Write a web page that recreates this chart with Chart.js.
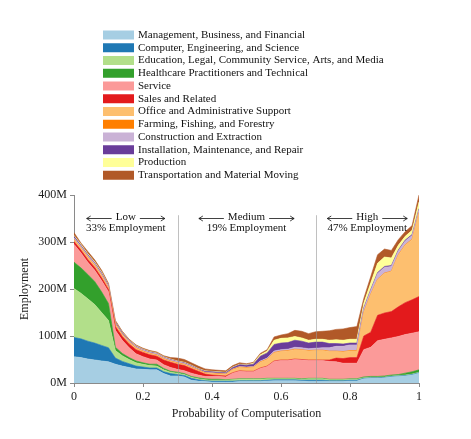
<!DOCTYPE html>
<html>
<head>
<meta charset="utf-8">
<title>Employment by Probability of Computerisation</title>
<script src="https://cdn.jsdelivr.net/npm/chart.js@4.4.1/dist/chart.umd.min.js"></script>
<style>
    html, body { margin: 0; padding: 0; background: #fff; }
    #wrap { position: relative; width: 471px; height: 439px; }
</style>
</head>
<body>
<div id="wrap"><canvas id="chart" width="471" height="439"></canvas></div>
<script>
// --- Data (employment in millions) ---
const probs = [0, 0.02, 0.04, 0.06, 0.08, 0.10, 0.12, 0.14, 0.16, 0.18,
    0.20, 0.22, 0.24, 0.26, 0.28, 0.30, 0.32, 0.34, 0.36, 0.38,
    0.40, 0.42, 0.44, 0.46, 0.48, 0.50, 0.52, 0.54, 0.56, 0.58,
    0.60, 0.62, 0.64, 0.66, 0.68, 0.70, 0.72, 0.74, 0.76, 0.78,
    0.80, 0.82, 0.84, 0.86, 0.88, 0.90, 0.92, 0.94, 0.96, 0.98, 1.00];

const management   = [56, 54, 51, 49, 47, 45, 40, 36, 33, 30, 29, 28, 28, 20, 15, 15, 13, 6, 4, 3, 2, 2, 2, 2, 3, 3, 3, 3, 4, 5, 5, 5, 5, 4, 3, 3, 3, 3, 3, 3, 4, 4, 9, 10, 10, 11, 13, 14, 15, 17, 21];
const computer     = [41, 40, 38, 36, 33, 30, 13, 10, 8, 6, 5, 4, 4, 4, 5, 3, 3, 4, 3, 2, 2, 2, 2, 2, 2, 2, 2, 2, 2, 2, 2, 2, 2, 2, 3, 3, 3, 2, 2, 2, 2, 2, 1, 1, 1, 1, 1, 1, 1, 1, 1];
const education    = [104, 97, 90, 82, 70, 58, 16, 12, 9, 7, 6, 5, 4, 4, 3, 3, 2, 2, 2, 2, 2, 2, 2, 3, 3, 3, 3, 3, 3, 2, 2, 2, 2, 2, 3, 3, 3, 2, 2, 2, 2, 2, 1, 1, 1, 1, 1, 1, 1, 1, 1];
const healthcare   = [56, 54, 52, 49, 44, 36, 7, 5, 4, 4, 3, 3, 4, 3, 2, 2, 2, 2, 2, 2, 2, 2, 1, 1, 1, 1, 1, 1, 1, 1, 1, 1, 1, 1, 1, 1, 1, 1, 1, 1, 1, 1, 2, 2, 2, 2, 2, 2, 4, 5, 5];
const service      = [38, 32, 26, 24, 24, 25, 36, 28, 21, 15, 13, 11, 9, 8, 8, 6, 6, 7, 6, 5, 6, 6, 6, 13, 16, 15, 15, 22, 25, 36, 38, 38, 40, 40, 38, 38, 38, 38, 37, 34, 33, 33, 58, 62, 76, 78, 79, 81, 82, 82, 81];
const sales        = [6, 6, 6, 6, 6, 5, 8, 8, 8, 9, 9, 9, 8, 10, 11, 11, 11, 10, 8, 5, 3, 2, 2, 1, 1, 1, 1, 1, 1, 1, 1, 1, 1, 1, 1, 1, 1, 3, 8, 10, 12, 12, 29, 32, 54, 56, 56, 63, 68, 71, 75];
const office       = [4, 4, 4, 4, 4, 3, 4, 3, 3, 3, 2, 2, 2, 2, 2, 2, 2, 2, 2, 2, 3, 3, 3, 6, 7, 7, 8, 12, 14, 17, 18, 19, 20, 20, 19, 20, 20, 18, 14, 14, 14, 14, 50, 80, 76, 84, 85, 110, 122, 128, 178];
const farming      = [1, 1, 1, 1, 1, 1, 1, 1, 1, 1, 1, 1, 1, 1, 1, 1, 1, 1, 1, 1, 1, 1, 1, 1, 1, 1, 1, 1, 1, 1, 1, 1, 1, 1, 1, 1, 1, 1, 1, 1, 1, 1, 1, 1, 1, 1, 1, 1, 1, 1, 1];
const construction = [3, 3, 3, 3, 3, 3, 2, 2, 2, 2, 2, 2, 2, 2, 2, 2, 2, 2, 1, 1, 1, 1, 1, 1, 1, 1, 1, 2, 2, 3, 3, 3, 4, 4, 4, 4, 5, 7, 10, 11, 12, 12, 7, 8, 12, 12, 10, 8, 8, 8, 6];
const installation = [3, 2, 2, 2, 2, 2, 2, 2, 1, 1, 1, 1, 1, 1, 1, 1, 1, 1, 1, 2, 2, 2, 2, 3, 4, 4, 5, 10, 11, 14, 14, 14, 15, 14, 12, 13, 12, 9, 6, 5, 4, 4, 2, 2, 2, 2, 2, 2, 2, 2, 2];
const production   = [2, 2, 2, 2, 2, 1, 1, 1, 1, 1, 1, 1, 1, 1, 1, 1, 1, 1, 1, 1, 1, 1, 1, 1, 1, 1, 2, 3, 4, 9, 10, 10, 8, 7, 6, 6, 6, 7, 8, 8, 8, 8, 10, 14, 20, 20, 16, 10, 8, 9, 14];
const transport    = [6, 3, 5, 4, 4, 3, 3, 2, 2, 2, 2, 2, 2, 2, 3, 6, 6, 5, 5, 4, 3, 3, 3, 3, 3, 2, 2, 3, 3, 7, 7, 9, 13, 14, 14, 16, 17, 20, 22, 24, 25, 27, 10, 13, 18, 17, 16, 12, 10, 10, 15];

const groupNames = [
    'Management, Business, and Financial',
    'Computer, Engineering, and Science',
    'Education, Legal, Community Service, Arts, and Media',
    'Healthcare Practitioners and Technical',
    'Service',
    'Sales and Related',
    'Office and Administrative Support',
    'Farming, Fishing, and Forestry',
    'Construction and Extraction',
    'Installation, Maintenance, and Repair',
    'Production',
    'Transportation and Material Moving'
];
const groupValues = [management, computer, education, healthcare, service, sales,
    office, farming, construction, installation, production, transport];

const yTicks = [0, 100, 200, 300, 400];
const bands = [
    { label: 'Low', share: '33% Employment', center: 0.15 },
    { label: 'Medium', share: '19% Employment', center: 0.5 },
    { label: 'High', share: '47% Employment', center: 0.85 }
];
const bandBreaks = [0.3, 0.7];

// --- Styles ---
const colors = ['#a6cee3', '#1f78b4', '#b2df8a', '#33a02c', '#fb9a99', '#e31a1c',
    '#fdbf6f', '#ff7f00', '#cab2d6', '#6a3d9a', '#ffff99', '#b15928'];
const SERIF = "'Liberation Serif', 'DejaVu Serif', serif";
const axisGray = '#8a8a8a';

// legend drawn in the empty space above the plot
const legendPlugin = {
    id: 'stackLegend',
    afterDraw(chart) {
        const ctx = chart.ctx;
        ctx.save();
        ctx.font = '11px ' + SERIF;
        ctx.textBaseline = 'middle';
        chart.data.datasets.forEach((ds, i) => {
            const y = 35 + i * 12.75;
            ctx.fillStyle = ds.backgroundColor;
            ctx.fillRect(103, y - 4.5, 31, 9);
            ctx.fillStyle = '#111';
            ctx.fillText(ds.label, 138, y);
        });
        ctx.restore();
    }
};

// band separators and band labels
const bandPlugin = {
    id: 'bands',
    afterDatasetsDraw(chart) {
        const ctx = chart.ctx;
        const xs = chart.scales.x, ys = chart.scales.y;
        ctx.save();
        ctx.strokeStyle = 'rgba(150,150,150,0.6)';
        ctx.lineWidth = 1;
        bandBreaks.forEach(b => {
            const x = Math.round(xs.getPixelForValue(b)) + 0.5;
            ctx.beginPath();
            ctx.moveTo(x, ys.getPixelForValue(357));
            ctx.lineTo(x, ys.bottom);
            ctx.stroke();
        });
        ctx.fillStyle = '#111';
        ctx.strokeStyle = '#111';
        ctx.font = '11px ' + SERIF;
        ctx.textAlign = 'center';
        ctx.textBaseline = 'middle';
        bands.forEach(band => {
            const cx = xs.getPixelForValue(band.center);
            const y1 = ys.getPixelForValue(352);
            ctx.fillText(band.label, cx, y1);
            ctx.fillText(band.share, cx, y1 + 11);
            const half = ctx.measureText(band.label).width / 2;
            const ay = Math.round(y1) + 0.5;
            // left arrow
            ctx.beginPath();
            ctx.moveTo(cx - half - 4, ay);
            ctx.lineTo(cx - half - 29, ay);
            ctx.moveTo(cx - half - 25, ay - 2.5);
            ctx.lineTo(cx - half - 29, ay);
            ctx.lineTo(cx - half - 25, ay + 2.5);
            // right arrow
            ctx.moveTo(cx + half + 4, ay);
            ctx.lineTo(cx + half + 29, ay);
            ctx.moveTo(cx + half + 25, ay - 2.5);
            ctx.lineTo(cx + half + 29, ay);
            ctx.lineTo(cx + half + 25, ay + 2.5);
            ctx.lineWidth = 0.8;
            ctx.stroke();
        });
        ctx.restore();
    }
};

const datasets = groupNames.map((name, i) => ({
    label: name,
    data: probs.map((p, j) => ({ x: p, y: groupValues[i][j] })),
    backgroundColor: colors[i],
    borderColor: colors[i],
    borderWidth: 0.6,
    pointRadius: 0,
    tension: 0,
    fill: i === 0 ? 'origin' : '-1'
}));

new Chart(document.getElementById('chart'), {
    type: 'line',
    data: { datasets },
    options: {
        responsive: false,
        animation: false,
        events: [],
        layout: { padding: { top: 195, left: 14, right: 52, bottom: 18 } },
        plugins: {
            legend: { display: false },
            tooltip: { enabled: false }
        },
        scales: {
            x: {
                type: 'linear',
                min: 0,
                max: 1,
                ticks: {
                    stepSize: 0.2, color: '#222', font: { family: SERIF, size: 12 }, padding: 3, maxRotation: 0,
                    callback: v => String(Math.round(v * 10) / 10)
                },
                grid: { drawOnChartArea: false, tickLength: 4, color: axisGray },
                border: { color: axisGray },
                title: { display: true, text: 'Probability of Computerisation', color: '#222', font: { family: SERIF, size: 12 }, padding: { top: 2, bottom: 0 } },
                afterFit: (axis) => { axis.height = 38; }
            },
            y: {
                stacked: true,
                min: 0,
                max: 400,
                afterBuildTicks: (axis) => { axis.ticks = yTicks.map(v => ({ value: v })); },
                ticks: { color: '#222', font: { family: SERIF, size: 12 }, padding: 3, callback: v => v + 'M' },
                grid: { drawOnChartArea: false, tickLength: 4, color: axisGray },
                border: { color: axisGray },
                title: { display: true, text: 'Employment', color: '#222', font: { family: SERIF, size: 12 } },
                afterFit: (axis) => { axis.width = 60; }
            }
        }
    },
    plugins: [legendPlugin, bandPlugin]
});
</script>
</body>
</html>
